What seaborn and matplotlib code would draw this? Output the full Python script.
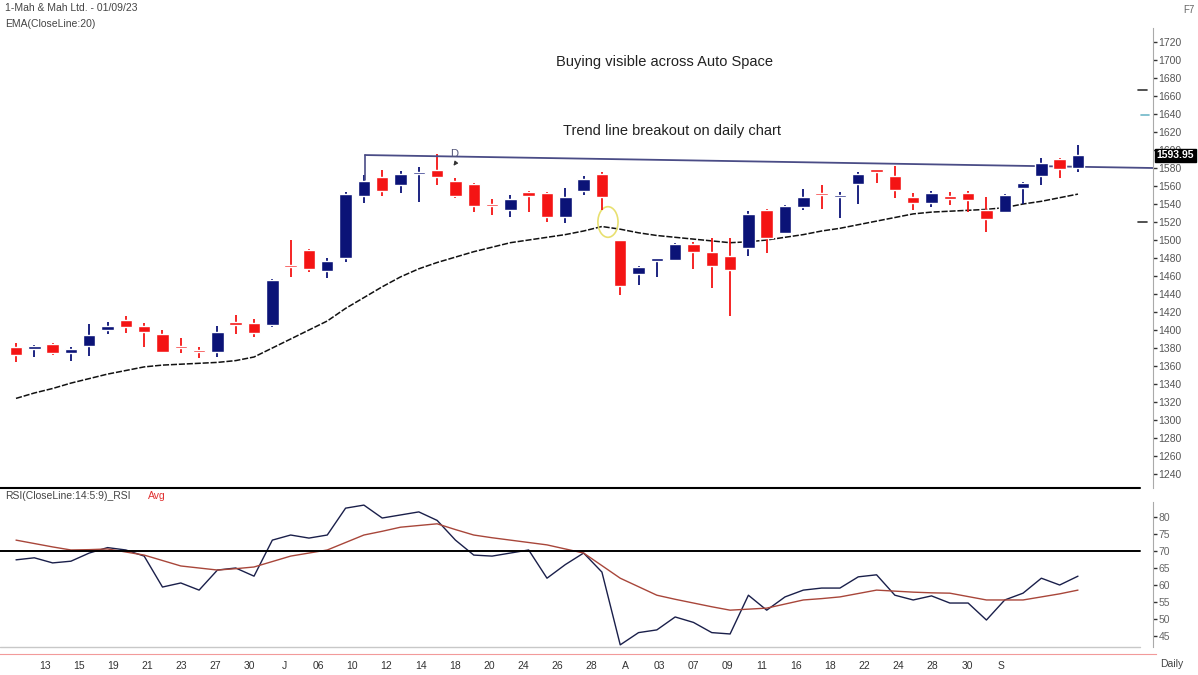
import numpy as np
import pandas as pd
import seaborn as sns
import matplotlib.pyplot as plt
from matplotlib.lines import Line2D
from matplotlib.patches import Ellipse

# =============================================================================
# Data
# =============================================================================

opens = [1381, 1379, 1384, 1374, 1382, 1400, 1411, 1404, 1396, 1381,
         1378, 1376, 1407, 1408, 1405, 1471, 1489, 1466, 1480, 1549,
         1570, 1561, 1573, 1578, 1566, 1562, 1539, 1533, 1553, 1552,
         1526, 1554, 1573, 1500, 1462, 1477, 1478, 1496, 1487, 1482,
         1491, 1533, 1508, 1537, 1552, 1548, 1562, 1577, 1571, 1548,
         1541, 1548, 1552, 1533, 1531, 1558, 1571, 1590, 1580]
highs = [1386, 1383, 1386, 1381, 1407, 1409, 1415, 1408, 1400, 1391,
         1381, 1404, 1417, 1412, 1457, 1500, 1490, 1480, 1553, 1572,
         1578, 1577, 1581, 1596, 1569, 1563, 1546, 1550, 1554, 1553,
         1558, 1571, 1576, 1500, 1471, 1478, 1497, 1498, 1502, 1502,
         1532, 1534, 1539, 1557, 1561, 1553, 1576, 1579, 1582, 1552,
         1554, 1553, 1554, 1548, 1551, 1565, 1591, 1591, 1606]
lows = [1364, 1370, 1372, 1366, 1371, 1395, 1397, 1381, 1374, 1374,
        1369, 1370, 1395, 1392, 1403, 1459, 1464, 1458, 1475, 1541,
        1549, 1552, 1542, 1561, 1547, 1531, 1528, 1526, 1531, 1520,
        1519, 1550, 1533, 1439, 1450, 1459, 1477, 1468, 1447, 1416,
        1482, 1486, 1507, 1533, 1535, 1525, 1540, 1563, 1547, 1533,
        1537, 1539, 1531, 1509, 1530, 1540, 1561, 1569, 1576]
closes = [1372, 1382, 1374, 1379, 1394, 1404, 1403, 1398, 1376, 1380,
          1375, 1398, 1406, 1397, 1456, 1470, 1468, 1477, 1551, 1566,
          1554, 1573, 1574, 1570, 1549, 1538, 1538, 1546, 1549, 1526,
          1548, 1568, 1548, 1449, 1470, 1477.5, 1496, 1487, 1471, 1467,
          1529, 1502, 1538, 1548, 1550, 1548.5, 1573, 1576, 1556, 1541,
          1552, 1546, 1545, 1523, 1550, 1563, 1586, 1579, 1593.95]

ema20 = [1324, 1330, 1335, 1341, 1346, 1351, 1355, 1359, 1361, 1362,
         1363, 1364, 1366, 1370, 1380, 1390, 1400, 1410, 1424, 1436,
         1448, 1459, 1468, 1475, 1481, 1487, 1492, 1497, 1500, 1503,
         1506, 1510, 1515, 1512, 1508, 1505, 1503, 1501, 1499, 1497,
         1498, 1500, 1503, 1506, 1510, 1513, 1517, 1521, 1525, 1529,
         1531, 1532, 1533, 1534, 1536, 1540, 1543, 1547, 1551]

rsi = [67.4, 68.0, 66.5, 67.0, 69.4, 71.0, 70.3, 68.5, 59.4, 60.6,
       58.5, 64.4, 65.0, 62.6, 73.2, 74.7, 73.8, 74.7, 82.6, 83.5,
       79.7, 80.6, 81.5, 79.0, 73.2, 68.8, 68.5, 69.4, 70.3, 62.0,
       66.0, 69.4, 63.8, 42.4, 46.0, 46.8, 50.6, 49.0, 46.0, 45.6,
       57.0, 52.6, 56.5, 58.5, 59.1, 59.1, 62.4, 63.0, 57.0, 55.6,
       56.8, 54.7, 54.7, 49.7, 55.6, 57.6, 62.0, 60.0, 62.6]
rsi_avg = [73.2, 72.2, 71.2, 70.3, 70.4, 70.6, 69.7, 68.8, 67.2, 65.6,
           65.0, 64.4, 64.8, 65.3, 66.9, 68.5, 69.4, 70.3, 72.5, 74.7,
           75.8, 77.0, 77.5, 78.0, 76.3, 74.7, 73.9, 73.2, 72.5, 71.8,
           70.6, 69.4, 65.7, 62.0, 59.5, 57.0, 55.8, 54.7, 53.6, 52.6,
           52.9, 53.2, 54.4, 55.6, 56.0, 56.5, 57.5, 58.5, 58.2, 57.9,
           57.7, 57.6, 56.6, 55.6, 55.6, 55.6, 56.5, 57.4, 58.5]

date_labels = ["13", "15", "19", "21", "23", "27", "30", "J", "06", "10",
               "12", "14", "18", "20", "24", "26", "28", "A", "03", "07",
               "09", "11", "16", "18", "22", "24", "28", "30", "S"]
price_ticks = list(range(1240, 1721, 20))
rsi_ticks = [45, 50, 55, 60, 65, 70, 75, 80]

df = pd.DataFrame({"idx": np.arange(len(closes)), "open": opens, "high": highs,
                   "low": lows, "close": closes, "ema": ema20,
                   "rsi": rsi, "avg": rsi_avg})

# =============================================================================
# Figure / axes
# =============================================================================

sns.set_style("white")
plt.rcParams["font.family"] = ["Liberation Sans", "DejaVu Sans"]

W, H = 1198, 675
fig = plt.figure(figsize=(W / 100, H / 100), dpi=100)

ax = fig.add_axes([0, 1 - 488 / H, 1153 / W, 460 / H])
ax_rsi = fig.add_axes([0, 1 - 654 / H, 1153 / W, 164 / H])

xlim = (-16 / 18.31, 1137 / 18.31)
UP, DOWN = "#0b1377", "#f41414"

# -----------------------------------------------------------------------------
# Candles + EMA
# -----------------------------------------------------------------------------

up = df["close"] >= df["open"]
colors = np.where(up, UP, DOWN)
body = (df["close"] - df["open"]).abs().clip(lower=2.5)
bottom = df[["open", "close"]].min(axis=1)

ax.vlines(df["idx"], df["low"], df["high"], colors=colors, lw=1.3, zorder=2)
ax.bar(df["idx"], body, bottom=bottom, width=0.68, color=colors, zorder=3)

sns.lineplot(data=df, x="idx", y="ema", color="#111111", lw=1.1,
             linestyle=(0, (4, 1.2)), ax=ax, zorder=1)

# trend line
ax.plot([19.06, 19.06], [1567, 1594.4], color="#4a4c86", lw=1.2)
ax.plot([19.06, 62.1], [1594.4, 1580], color="#4a4c86", lw=1.3)
ax.text(23.95, 1596, "D", color="#55577a", fontsize=8, ha="center", va="center")
ax.annotate("", xy=(23.8, 1580), xytext=(24.1, 1588),
            arrowprops=dict(arrowstyle="-|>", color="#333", lw=0.8, mutation_scale=6))

ax.add_patch(Ellipse((32.33, 1520), 1.1, 34, fill=False, ec="#e8e070", lw=1.2))

# small markers left of the price axis
ax.plot([61.3, 61.75], [1667, 1667], color="#333", lw=1.2)
ax.plot([61.45, 61.9], [1639, 1639], color="#6fb8c8", lw=1.2)
ax.plot([61.3, 61.75], [1520, 1520], color="#333", lw=1.2)

ax.set_xlim(*xlim)
ax.set_ylim(1224.44, 1735.56)
ax.set_yticks(price_ticks)
ax.yaxis.tick_right()
ax.tick_params(axis="y", direction="out", length=3, width=1, colors="#333",
               labelsize=7.5, labelcolor="#555", pad=1)
ax.set_xticks([])
ax.set_xlabel("")
ax.set_ylabel("")
for side in ["left", "top", "bottom"]:
    ax.spines[side].set_visible(False)
ax.spines["right"].set_color("#aaaaaa")

ax.text(1.003, 1593.95, "1593.95", transform=ax.get_yaxis_transform(),
        color="white", fontsize=7.5, fontweight="bold", va="center", ha="left",
        zorder=10, bbox=dict(boxstyle="square,pad=0.15", fc="black", ec="black"))

# -----------------------------------------------------------------------------
# RSI panel
# -----------------------------------------------------------------------------

sns.lineplot(data=df, x="idx", y="rsi", color="#1a1f4a", lw=1.0, ax=ax_rsi)
sns.lineplot(data=df, x="idx", y="avg", color="#a8463a", lw=1.0, ax=ax_rsi)
ax_rsi.axhline(70, xmax=1140 / 1153, color="black", lw=1.4)
ax_rsi.axhline(41.76, xmax=1140 / 1153, color="#c8c8c8", lw=1.0)

ax_rsi.set_xlim(*xlim)
ax_rsi.set_ylim(39.71, 87.94)
ax_rsi.set_yticks(rsi_ticks)
ax_rsi.yaxis.tick_right()
ax_rsi.tick_params(axis="y", direction="out", length=3, width=1, colors="#333",
                   labelsize=7.5, labelcolor="#666", pad=1)
ax_rsi.set_xticks(np.linspace(1.58, 53.8, len(date_labels)))
ax_rsi.set_xticklabels(date_labels)
ax_rsi.tick_params(axis="x", direction="out", length=3, width=1, colors="#bbb",
                   labelsize=7.5, labelcolor="#333", pad=2)
ax_rsi.set_xlabel("")
ax_rsi.set_ylabel("")
ax_rsi.spines["top"].set_visible(False)
ax_rsi.spines["left"].set_visible(False)
ax_rsi.spines["bottom"].set_color("#f29a9a")
ax_rsi.spines["bottom"].set_bounds(xlim[0], 1140 / 18.31)
ax_rsi.spines["right"].set_color("#aaaaaa")
ax_rsi.spines["right"].set_bounds(41.8, 84.4)

# separator between panels
fig.add_artist(Line2D([0, 1140 / W], [1 - 488 / H] * 2, color="black", lw=1.5))

# =============================================================================
# Texts
# =============================================================================

def ftext(x, y, s, **kw):
    fig.text(x / W, 1 - y / H, s, **kw)

ftext(5, 8, "1-Mah & Mah Ltd. - 01/09/23", fontsize=7.5, color="#444", va="center")
ftext(5, 24, "EMA(CloseLine:20)", fontsize=7.5, color="#444", va="center")
ftext(1183, 10, "F7", fontsize=7, color="#666", va="center")
ftext(665, 62, "Buying visible across Auto Space", fontsize=10.5, color="#222",
      ha="center", va="center")
ftext(672, 131, "Trend line breakout on daily chart", fontsize=10.5, color="#222",
      ha="center", va="center")
ftext(5, 496, "RSI(CloseLine:14:5:9)_RSI", fontsize=7.5, color="#444", va="center")
ftext(148, 496, "Avg", fontsize=7.5, color="#e03030", va="center")
ftext(1160, 664, "Daily", fontsize=7.5, color="#444", va="center")

fig.savefig("out.png", dpi=100)
